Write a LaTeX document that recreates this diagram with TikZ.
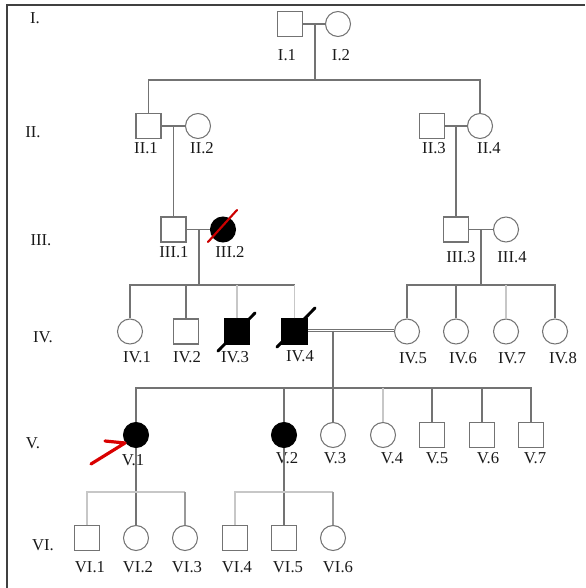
\documentclass[tikz,border=0pt]{standalone}
\usepackage{fontspec}
\setmainfont{Liberation Serif}
\begin{document}
\begin{tikzpicture}[x=0.75pt,y=-0.75pt,
  line/.style={draw=black!55,line width=0.8pt},
  faint/.style={draw=black!22,line width=0.8pt},
  male/.style={rectangle,draw=black!55,line width=0.8pt,minimum size=18.75pt,inner sep=0pt},
  female/.style={circle,draw=black!55,line width=0.8pt,minimum size=18.75pt,inner sep=0pt},
  affected/.style={fill=black,draw=black},
  lbl/.style={font=\fontsize{12.5}{13}\selectfont,text=black!90,inner sep=0pt},
  dead/.style={line width=2.2pt,line cap=round},
  proband/.style={draw=red!85!black,line width=2.4pt,line cap=round,line join=round}]
\useasboundingbox (0,0) rectangle (585,588);
% frame
\draw[black!75,line width=1.6pt] (7,588) -- (7,5) -- (585,5);

% generation labels
\node[lbl] (g1) at (35,18) {I.};
\node[lbl] (g2) at (33,132) {II.};
\node[lbl] (g3) at (41,240) {III.};
\node[lbl] (g4) at (43,337) {IV.};
\node[lbl] (g5) at (33,443) {V.};
\node[lbl] (g6) at (43,545) {VI.};

% generation I
\node[male]   (i1) at (290,24) {};
\node[female] (i2) at (338,24) {};
% generation II
\node[male]   (ii1) at (148.5,126) {};
\node[female] (ii2) at (198,126) {};
\node[male]   (ii3) at (432,126) {};
\node[female] (ii4) at (480,126) {};
% generation III
\node[male]   (iii1) at (173.5,229.5) {};
\node[female,affected] (iii2) at (223,229.5) {};
\node[male]   (iii3) at (456,229.5) {};
\node[female] (iii4) at (506,229.5) {};
% generation IV
\node[female] (iv1) at (130,331.5) {};
\node[male]   (iv2) at (186,331.5) {};
\node[male,affected] (iv3) at (237,331.5) {};
\node[male,affected] (iv4) at (294.5,331.5) {};
\node[female] (iv5) at (407,331.5) {};
\node[female] (iv6) at (456,331.5) {};
\node[female] (iv7) at (506,331.5) {};
\node[female] (iv8) at (555,331.5) {};
% generation V
\node[female,affected] (v1) at (136,435) {};
\node[female,affected] (v2) at (284,435) {};
\node[female] (v3) at (333,435) {};
\node[female] (v4) at (383,435) {};
\node[male]   (v5) at (432,435) {};
\node[male]   (v6) at (482,435) {};
\node[male]   (v7) at (531,435) {};
% generation VI
\node[male]   (vi1) at (87,538) {};
\node[female] (vi2) at (136,538) {};
\node[female] (vi3) at (185,538) {};
\node[male]   (vi4) at (235,538) {};
\node[male]   (vi5) at (284,538) {};
\node[female] (vi6) at (333,538) {};

% individual labels
\node[lbl] (li1) at (287,55) {I.1};
\node[lbl] (li2) at (341,55) {I.2};
\node[lbl] (lii1) at (146,148.5) {II.1};
\node[lbl] (lii2) at (202,148.5) {II.2};
\node[lbl] (lii3) at (434,148.5) {II.3};
\node[lbl] (lii4) at (489,148.5) {II.4};
\node[lbl] (liii1) at (174,252) {III.1};
\node[lbl] (liii2) at (230,252) {III.2};
\node[lbl] (liii3) at (461,257) {III.3};
\node[lbl] (liii4) at (512,257) {III.4};
\node[lbl] (liv1) at (137,357) {IV.1};
\node[lbl] (liv2) at (187,357) {IV.2};
\node[lbl] (liv3) at (235,357) {IV.3};
\node[lbl] (liv4) at (300,356) {IV.4};
\node[lbl] (liv5) at (413,358) {IV.5};
\node[lbl] (liv6) at (463,358) {IV.6};
\node[lbl] (liv7) at (512,358) {IV.7};
\node[lbl] (liv8) at (563,358) {IV.8};
\node[lbl] (lv1) at (133,460) {V.1};
\node[lbl] (lv2) at (287,458.5) {V.2};
\node[lbl] (lv3) at (335,458.5) {V.3};
\node[lbl] (lv4) at (392,458.5) {V.4};
\node[lbl] (lv5) at (437,458.5) {V.5};
\node[lbl] (lv6) at (488,458.5) {V.6};
\node[lbl] (lv7) at (535,458.5) {V.7};
\node[lbl] (lvi1) at (90,567.5) {VI.1};
\node[lbl] (lvi2) at (138,567.5) {VI.2};
\node[lbl] (lvi3) at (187,567.5) {VI.3};
\node[lbl] (lvi4) at (237,567.5) {VI.4};
\node[lbl] (lvi5) at (288,567.5) {VI.5};
\node[lbl] (lvi6) at (338,567.5) {VI.6};

% couple-line midpoints and sibling bars
\coordinate (m1) at (315,24);   \coordinate (s1) at (315,80);
\coordinate (m2) at (173.5,126);
\coordinate (m3) at (456,126);
\coordinate (m4) at (199,229.5); \coordinate (s4) at (199,285);
\coordinate (m5) at (481,229.5); \coordinate (s5) at (481,285);
\coordinate (m6) at (333,330.5); \coordinate (s6) at (333,388);
\coordinate (s7) at (136,492);
\coordinate (s8) at (284,492);

% matings
\draw[line] (i1) -- (i2);
\draw[line] (ii1) -- (ii2);
\draw[line] (ii3) -- (ii4);
\draw[line] (iii1) -- (iii2);
\draw[line] (iii3) -- (iii4);
% consanguineous mating: double line
\draw[line,line width=0.7pt] ([yshift=1.6pt]iv4.east) -- ([yshift=1.6pt]iv5.west);
\draw[line,line width=0.7pt] ([yshift=-0.2pt]iv4.east) -- ([yshift=-0.2pt]iv5.west);

% generation I offspring
\draw[line] (m1) -- (s1);
\draw[line] (ii1.north) |- (s1) -| (ii4.north);
% generation II offspring
\draw[line] (m2) -- (iii1.north);
\draw[line] (m3) -- (iii3.north);
% generation III offspring
\draw[line] (m4) -- (s4);
\draw[line] (iv1.north) |- (s4) -| (iv4.north |- s4);
\draw[line] (iv2.north) -- (iv2.north |- s4);
\draw[faint] (iv3.north) -- (iv3.north |- s4);
\draw[faint] (iv4.north) -- (iv4.north |- s4);
\draw[line] (m5) -- (s5);
\draw[line] (iv5.north) |- (s5) -| (iv8.north);
\draw[line] (iv6.north) -- (iv6.north |- s5);
\draw[faint] (iv7.north) -- (iv7.north |- s5);
% generation IV offspring
\draw[line] (m6) -- (v3.north);
\draw[line] (v1.north) |- (s6) -| (v7.north);
\draw[line] (v2.north) -- (v2.north |- s6);
\draw[faint] (v4.north) -- (v4.north |- s6);
\draw[line] (v5.north) -- (v5.north |- s6);
\draw[line] (v6.north) -- (v6.north |- s6);
% generation V offspring
\draw[line] (v1) -- (vi2);
\draw[faint] (vi1.north) |- (s7) -| (vi3.north |- s7);
\draw[line,draw=black!40] (vi3.north) -- (vi3.north |- s7);
\draw[line] (v2) -- (vi5);
\draw[faint] (vi4.north) |- (s8) -| (vi6.north |- s8);
\draw[line,draw=black!40] (vi6.north) -- (vi6.north |- s8);

% deceased marks
\draw[dead,draw=red!80!black,line width=1.6pt] (208,242) -- (237,210);
\draw[dead] (218,351) -- (255,313);
\draw[dead] (277,347) -- (315,308);

% proband arrow
\coordinate (pa) at (91,464);
\coordinate (pt) at (125,443);
\coordinate (pb) at (105,441);
\draw[proband] (pa) -- (pt) -- (pb);
\end{tikzpicture}
\end{document}
